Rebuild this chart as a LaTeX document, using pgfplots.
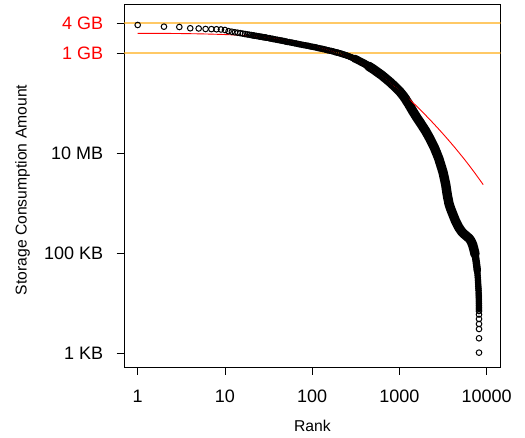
\documentclass[border=0pt]{standalone}
\usepackage{pgfplots}
\usepackage{pgfplotstable}
\pgfplotsset{compat=1.18}
\usepackage{fontspec}
\setmainfont{Liberation Sans}
\definecolor{orangeline}{RGB}{255,165,0}
% rank  bytes : the first, clearly separate points
\pgfplotstableread{
rank bytes
1 3.64e9
2 3.37e9
3 3.32e9
4 3.13e9
5 3.10e9
6 3.03e9
7 3.01e9
8 2.99e9
9 2.96e9
10 2.89e9
11 2.74e9
12 2.67e9
13 2.60e9
14 2.55e9
15 2.50e9
16 2.45e9
17 2.40e9
18 2.36e9
19 2.33e9
20 2.29e9
21 2.26e9
}\headtable
% the dense band
\pgfplotstableread{
rank bytes
21 2.26e9
22 2.22e9
23 2.20e9
24 2.17e9
25 2.14e9
26 2.12e9
27 2.09e9
28 2.07e9
29 2.05e9
30 2.03e9
32 1.99e9
33 1.96e9
35 1.93e9
36 1.90e9
38 1.87e9
40 1.84e9
42 1.81e9
44 1.78e9
46 1.76e9
48 1.73e9
50 1.70e9
52 1.67e9
55 1.65e9
58 1.62e9
60 1.60e9
63 1.57e9
66 1.55e9
69 1.52e9
72 1.50e9
76 1.47e9
79 1.45e9
83 1.43e9
87 1.41e9
91 1.39e9
95 1.36e9
100 1.34e9
105 1.32e9
110 1.30e9
115 1.27e9
120 1.25e9
126 1.23e9
132 1.21e9
138 1.19e9
145 1.16e9
151 1.14e9
158 1.12e9
166 1.10e9
174 1.08e9
182 1.05e9
191 1.03e9
200 1.01e9
209 9.86e8
219 9.62e8
229 9.38e8
240 9.14e8
251 8.91e8
263 8.63e8
275 8.36e8
288 8.09e8
302 7.83e8
316 7.59e8
331 7.28e8
347 6.98e8
363 6.70e8
380 6.43e8
398 6.17e8
412 5.94e8
427 5.71e8
442 5.50e8
457 5.30e8
473 5.10e8
490 4.91e8
507 4.72e8
525 4.52e8
543 4.33e8
562 4.15e8
582 3.97e8
603 3.80e8
624 3.64e8
646 3.47e8
668 3.30e8
692 3.14e8
716 2.99e8
741 2.84e8
767 2.70e8
794 2.57e8
822 2.42e8
851 2.29e8
881 2.16e8
912 2.03e8
944 1.92e8
977 1.81e8
1000 1.74e8
1023 1.66e8
1047 1.58e8
1072 1.50e8
1096 1.43e8
1122 1.36e8
1148 1.28e8
1175 1.21e8
1202 1.13e8
1230 1.06e8
1259 1.00e8
1288 9.33e7
1318 8.71e7
1349 8.13e7
1380 7.59e7
1413 7.08e7
1445 6.64e7
1479 6.22e7
1514 5.83e7
1549 5.47e7
1585 5.13e7
1622 4.83e7
1660 4.55e7
1698 4.29e7
1738 4.04e7
1778 3.80e7
1820 3.57e7
1862 3.36e7
1905 3.16e7
1950 2.96e7
1995 2.79e7
2042 2.59e7
2089 2.42e7
2138 2.25e7
2188 2.09e7
2239 1.95e7
2291 1.80e7
2344 1.66e7
2399 1.53e7
2455 1.41e7
2512 1.30e7
2560 1.20e7
2605 1.11e7
2650 1.04e7
2695 9.63e6
2745 8.90e6
2795 8.23e6
2845 7.53e6
2895 6.83e6
2950 6.15e6
3005 5.55e6
3060 5.01e6
3115 4.53e6
3170 4.08e6
3206 3.73e6
3243 3.40e6
3281 3.10e6
3319 2.83e6
3357 2.58e6
3396 2.34e6
3424 2.13e6
3451 1.94e6
3479 1.77e6
3508 1.61e6
3536 1.47e6
3565 1.36e6
3606 1.23e6
3648 1.12e6
3690 1.01e6
3741 9.23e5
3811 8.41e5
3881 7.67e5
3954 7.06e5
4027 6.49e5
4103 5.98e5
4179 5.53e5
4256 5.10e5
4335 4.71e5
4416 4.39e5
4519 4.05e5
4624 3.74e5
4732 3.45e5
4842 3.22e5
4955 3.04e5
5070 2.87e5
5188 2.71e5
5309 2.59e5
5433 2.50e5
5559 2.41e5
5689 2.33e5
5821 2.25e5
5957 2.18e5
6095 2.10e5
6237 2.03e5
6383 1.94e5
6531 1.83e5
6683 1.70e5
6839 1.55e5
6950 1.44e5
7063 1.29e5
7178 1.16e5
7278 1.05e5
7345 9.64e4
7413 8.85e4
7482 8.12e4
7551 7.24e4
7603 6.61e4
7656 6.03e4
7709 5.51e4
7762 5.01e4
7798 4.51e4
7834 4.06e4
7870 3.65e4
7907 3.28e4
7943 2.95e4
7967 2.69e4
7991 2.45e4
8017 2.22e4
8041 2.02e4
8065 1.84e4
8091 1.62e4
8105 1.48e4
8118 1.35e4
8128 1.23e4
8136 1.12e4
8142 1.02e4
8147 9.3e3
8151 8.5e3
8154 7.8e3
}\bandtable
% the last, separate points
\pgfplotstableread{
rank bytes
8157 7.11e3
8159 6.06e3
8161 4.93e3
8162 3.92e3
8163 3.11e3
8165 2.03e3
8166 1.05e3
}\tailtable
% fitted curve
\pgfplotstableread{
rank bytes
1 2.483e9
1.778 2.476e9
3.162 2.455e9
5.623 2.413e9
10 2.344e9
17.78 2.233e9
31.62 2.042e9
42.17 1.913e9
56.23 1.764e9
74.99 1.599e9
100 1.425e9
133.4 1.243e9
177.8 1.059e9
237.1 8.754e8
316.2 6.98e8
421.7 5.336e8
562.3 3.89e8
749.9 2.707e8
1000 1.799e8
1334 1.147e8
1778 7.059e7
2371 4.205e7
3162 2.433e7
4217 1.363e7
5623 7.37e6
7161 4.25e6
9120 2.365e6
}\fittable
\begin{document}
\begin{tikzpicture}
\path[use as bounding box] (-124pt,-69.7pt) rectangle (401pt,367.3pt);
\begin{axis}[
  at={(0pt,0pt)}, anchor=south west,
  scale only axis, width=376.7pt, height=363.3pt,
  xmode=log, ymode=log,
  xmin=0.6966, xmax=14470, ymin=535, ymax=9.55e9,
  axis line style={line width=0.8pt, black},
  tick style={line width=0.8pt, black},
  tick align=outside, major tick length=7.5pt,
  tick pos=left,
  minor tick style={draw=none}, minor tick length=0pt,
  xtick={1,10,100,1000,10000},
  xticklabels={1,10,100,1000,10000},
  ytick={1e3,1e5,1e7,1e9,4e9},
  yticklabels={1 KB,100 KB,10 MB,\textcolor{red}{1 GB},\textcolor{red}{4 GB}},
  ticklabel style={font=\fontsize{18}{20}\selectfont, inner sep=0pt},
  xticklabel style={anchor=base, yshift=-27.5pt},
  yticklabel style={anchor=east, xshift=-13.2pt},
  xlabel={Rank}, ylabel={Storage Consumption Amount},
  label style={font=\fontsize{15.7}{18}\selectfont, inner sep=0pt},
  xlabel style={at={(axis description cs:0.5,-0.1773)}, anchor=base},
  ylabel style={at={(axis description cs:-0.2588,0.488)}, anchor=base},
  band/.style={black, line join=round, line cap=round, no marks},
]
\addplot[band, line width=4.6pt, restrict expr to domain={\coordindex}{0:49}] table[x=rank, y=bytes] {\bandtable};
\addplot[band, line width=6.0pt, restrict expr to domain={\coordindex}{48:60}] table[x=rank, y=bytes] {\bandtable};
\addplot[band, line width=7.8pt, restrict expr to domain={\coordindex}{59:69}] table[x=rank, y=bytes] {\bandtable};
\addplot[band, line width=9.4pt, restrict expr to domain={\coordindex}{68:194}] table[x=rank, y=bytes] {\bandtable};
\addplot[band, line width=7.4pt, restrict expr to domain={\coordindex}{193:202}] table[x=rank, y=bytes] {\bandtable};
\addplot[band, line width=5.4pt, restrict expr to domain={\coordindex}{201:221}] table[x=rank, y=bytes] {\bandtable};
\addplot[only marks, mark=o, black, mark size=2.8pt, mark options={line width=1.0pt}] table[x=rank, y=bytes] {\bandtable};
\addplot[only marks, mark=o, black, mark size=2.8pt, mark options={line width=1.0pt}] table[x=rank, y=bytes] {\headtable};
\addplot[only marks, mark=o, black, mark size=2.8pt, mark options={line width=1.0pt}] table[x=rank, y=bytes] {\tailtable};
\addplot[red, line width=0.9pt, smooth, no marks] table[x=rank, y=bytes] {\fittable};
\addplot[orangeline, opacity=0.6, line width=1.4pt, no marks] coordinates {(0.6966,1e9) (14470,1e9)};
\addplot[orangeline, opacity=0.6, line width=1.4pt, no marks] coordinates {(0.6966,4e9) (14470,4e9)};
\end{axis}
\end{tikzpicture}
\end{document}
